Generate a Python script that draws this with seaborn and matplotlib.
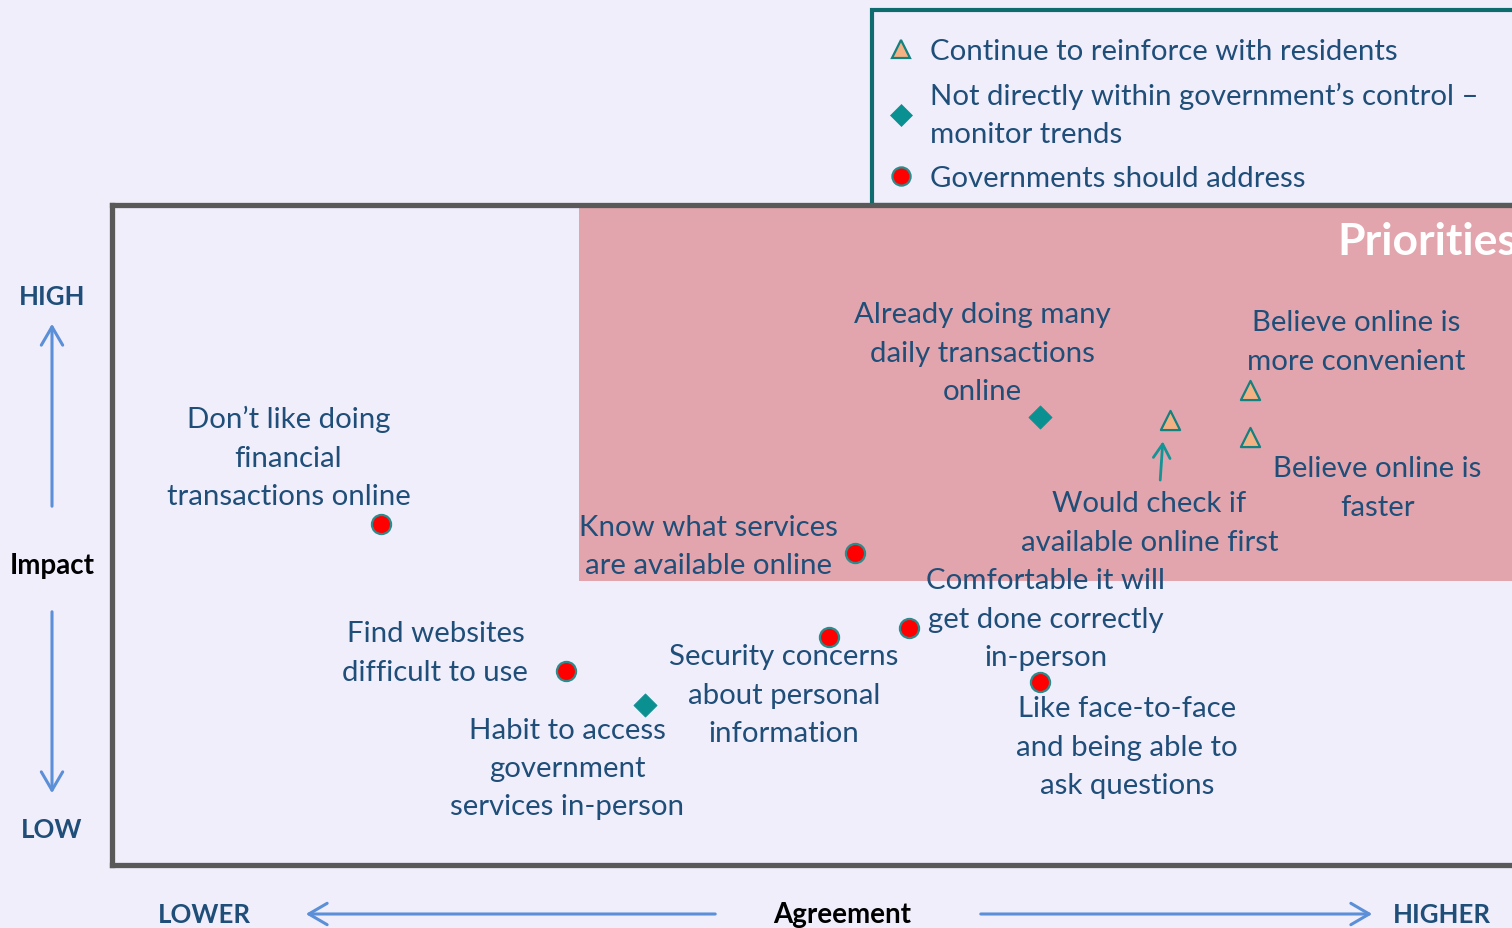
import matplotlib
matplotlib.use("Agg")
import matplotlib.pyplot as plt
import seaborn as sns
import pandas as pd
from matplotlib.patches import Rectangle, FancyArrowPatch
from matplotlib.lines import Line2D

# ---------------- data ----------------
labels = [
    "Don’t like doing\nfinancial\ntransactions online",
    "Know what services\nare available online",
    "Find websites\ndifficult to use",
    "Habit to access\ngovernment\nservices in-person",
    "Security concerns\nabout personal\ninformation",
    "Comfortable it will\nget done correctly\nin-person",
    "Like face-to-face\nand being able to\nask questions",
    "Already doing many\ndaily transactions\nonline",
    "Would check if\navailable online first",
    "Believe online is\nmore convenient",
    "Believe online is\nfaster",
]
agreement = [19.2, 53.1, 32.4, 38.1, 51.2, 56.9, 66.3, 66.3, 75.6, 81.3, 81.3]
impact = [51.7, 47.3, 29.4, 24.2, 34.5, 35.9, 27.7, 67.9, 67.4, 72.0, 64.8]
groups = ["address", "address", "address", "monitor", "address", "address",
          "address", "monitor", "reinforce", "reinforce", "reinforce"]

group_names = ["reinforce", "monitor", "address"]
legend_labels = ["Continue to reinforce with residents",
                 "Not directly within government’s control –\nmonitor trends",
                 "Governments should address"]

# label placement (text block centres, same units as the axes)
label_x = [12.6, 42.6, 23.1, 32.5, 48.0, 66.7, 72.5, 62.2, 74.1, 88.9, 90.4]
label_y = [61.8, 48.3, 32.2, 14.7, 25.8, 37.3, 17.9, 77.6, 51.9, 79.3, 57.2]

# ---------------- styles ----------------
W, H = 1512, 929
BG = "#F1EEFB"
PINK = "#E2A5AD"
TEXT = "#1F4E79"
ARROW = "#5B8FD8"
TEAL = "#0E6B6E"
FS = 21.2
LS = 1.59
styles = {
    "reinforce": dict(marker="^", color="#F4B183", edgecolor="#13817F", linewidth=1.6, s=190),
    "monitor": dict(marker="D", color="#0A9090", edgecolor="#0A9090", linewidth=0.5, s=140),
    "address": dict(marker="o", color="#FF0000", edgecolor="#2A8C8C", linewidth=1.6, s=190),
}

sns.set_style("white")
plt.rcParams["font.family"] = ["Lato", "DejaVu Sans"]

def fx(px):
    return px / W

def fy(py):
    return 1 - py / H

fig = plt.figure(figsize=(W / 100, H / 100), dpi=100, facecolor=BG)

# legend frame (behind the plot box)
fig.patches.append(Rectangle((fx(872), fy(206)), fx(1540) - fx(872), fy(11) - fy(206),
                             transform=fig.transFigure, fill=False, edgecolor=TEAL,
                             linewidth=3, zorder=-1))

ax = fig.add_axes([fx(112), fy(866), 1400 / W, 660 / H])
ax.set_facecolor(BG)
ax.set_xlim(0, 100)
ax.set_ylim(0, 100)
ax.set_xticks([])
ax.set_yticks([])
for side in ["left", "top", "bottom"]:
    ax.spines[side].set_color("#595959")
    ax.spines[side].set_linewidth(3.8)
    ax.spines[side].set_visible(True)
ax.spines["right"].set_visible(False)

# priorities zone
ax.add_patch(Rectangle((33.36, 43.03), 80, 60, facecolor=PINK, edgecolor="none", zorder=0))
ax.text(87.5, 94.5, "Priorities", color="white", fontsize=32, fontweight="bold",
        ha="left", va="center", zorder=2)

df = pd.DataFrame({"agreement": agreement, "impact": impact, "group": groups})
for g in group_names:
    sub = df[df["group"] == g]
    st = styles[g]
    sns.scatterplot(data=sub, x="agreement", y="impact", ax=ax, marker=st["marker"],
                    color=st["color"], edgecolor=st["edgecolor"], linewidth=st["linewidth"],
                    s=st["s"], zorder=4, legend=False)
ax.set_xlabel("")
ax.set_ylabel("")

for lab, x, y in zip(labels, label_x, label_y):
    ax.text(x, y, lab, ha="center", va="center", color=TEXT, fontsize=FS,
            linespacing=LS, zorder=3)

# callout arrow
ax.annotate("", xy=(75.07, 64.6), xytext=(74.86, 57.9),
            arrowprops=dict(arrowstyle="->,head_length=0.5,head_width=0.3",
                            color="#149494", lw=2, mutation_scale=20), zorder=3)

# legend
handles = []
for g in group_names:
    st = styles[g]
    handles.append(Line2D([], [], linestyle="none", marker=st["marker"],
                          markerfacecolor=st["color"], markeredgecolor=st["edgecolor"],
                          markeredgewidth=st["linewidth"],
                          markersize=(st["s"] ** 0.5) * 0.95))
leg = fig.legend(handles, legend_labels, loc="upper left", bbox_to_anchor=(fx(886), fy(39)),
                 frameon=False, fontsize=FS, labelcolor=TEXT, handletextpad=0.5,
                 labelspacing=0.6, borderpad=0, borderaxespad=0, handlelength=1.0)
for t in leg.get_texts():
    t.set_linespacing(LS)

# axis annotations
def farrow(x0, y0, x1, y1):
    fig.patches.append(FancyArrowPatch((fx(x0), fy(y0)), (fx(x1), fy(y1)),
                                       transform=fig.transFigure,
                                       arrowstyle="->,head_length=0.6,head_width=0.35",
                                       mutation_scale=22, color=ARROW, lw=2.2))

farrow(52, 510, 52, 322)
farrow(52, 610, 52, 797)
farrow(718, 915, 303, 915)
farrow(978, 915, 1375, 915)

fig.text(fx(52), fy(297), "HIGH", color=TEXT, fontsize=18.5, fontweight="bold", ha="center", va="center")
fig.text(fx(52), fy(830), "LOW", color=TEXT, fontsize=18.5, fontweight="bold", ha="center", va="center")
fig.text(fx(52), fy(566), "Impact", color="black", fontsize=20, fontweight="bold", ha="center", va="center")
fig.text(fx(204), fy(915), "LOWER", color=TEXT, fontsize=18.5, fontweight="bold", ha="center", va="center")
fig.text(fx(842), fy(915), "Agreement", color="black", fontsize=20, fontweight="bold", ha="center", va="center")
fig.text(fx(1442), fy(915), "HIGHER", color=TEXT, fontsize=18.5, fontweight="bold", ha="center", va="center")

fig.savefig("out.png", dpi=100, facecolor=BG)
